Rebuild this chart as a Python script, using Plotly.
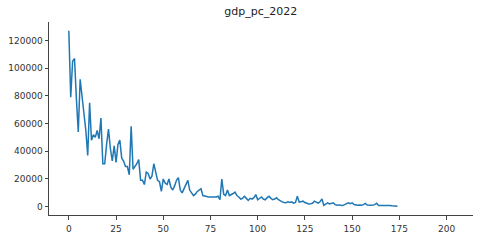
import plotly.graph_objects as go

title = "gdp_pc_2022"

# GDP per capita values (thousands), index 0..174
gdp_k = [
    127, 79, 105, 107, 78, 54, 92, 80, 68, 55,
    37, 75, 48, 52, 50, 55, 49, 64, 31, 31,
    45, 56, 42, 33, 44, 32, 45, 48, 35, 33,
    29, 29, 23, 58, 27, 29, 31, 34, 19, 19,
    16, 25, 24, 20, 22, 31, 24, 19, 18, 11,
    20, 17, 16, 20, 14, 12, 15, 19, 21, 12,
    10, 13, 16, 19, 12, 10, 8, 9, 11, 12,
    13, 8, 7.5, 7.5, 7, 7, 7, 6.5, 7, 7.5,
    5, 20, 9, 8, 12, 8, 8.5, 9.5, 10.5, 8,
    7, 5.5, 6, 7.5, 6, 4.5, 6, 5.5, 6.5, 8.7,
    5, 6, 7, 5.5, 5, 6.5, 7.5, 6, 5, 5.5,
    6.5, 5, 4, 3.5, 3, 2.8, 3.5, 3, 3.5, 2.5,
    3, 7.5, 3.3, 3.5, 4, 3, 2.4, 2, 2.2, 2.5,
    4, 3, 2.5, 3.5, 5.6, 1, 2, 2.8, 2, 2.5,
    2.8, 1.5, 1, 1.3, 1.2, 0.8, 1.5, 2.4, 2.8, 2.2,
    2.8, 1.5, 1.2, 1, 1.2, 1, 1.5, 2.4, 1.2, 1,
    1, 1.2, 1.5, 2.4, 0.8, 0.9, 1, 0.9, 1, 0.8,
    0.9, 0.7, 0.6, 0.5, 0.3,
]
gdp = [v * 1000 for v in gdp_k]
idx = list(range(len(gdp)))

x_ticks = [0, 25, 50, 75, 100, 125, 150, 175, 200]
y_ticks = [0, 20000, 40000, 60000, 80000, 100000, 120000]

fig = go.Figure()
fig.add_trace(go.Scatter(x=idx, y=gdp, mode="lines",
                         line=dict(color="#1f77b4", width=1.5),
                         showlegend=False))

axis_common = dict(showgrid=False, zeroline=False, showline=True,
                   linecolor="#444", linewidth=1, ticks="outside",
                   ticklen=3.5, tickwidth=1, tickcolor="#444",
                   tickfont=dict(family="DejaVu Sans", size=9, color="#333"))

fig.update_layout(
    width=480, height=241,
    margin=dict(l=49, r=7, t=22, b=22),
    paper_bgcolor="white", plot_bgcolor="white",
    title=dict(text=title, x=0.5433, xanchor="center", y=0.952, yanchor="middle",
               font=dict(family="DejaVu Sans", size=11, color="#222")),
    xaxis=dict(range=[-10.5, 214], tickvals=x_ticks, ticklabelstandoff=2,
               ticktext=[str(t) for t in x_ticks], **axis_common),
    yaxis=dict(range=[-6000, 133300], tickvals=y_ticks,
               ticktext=[str(t) for t in y_ticks], **axis_common),
)

fig.write_html("out.html")
